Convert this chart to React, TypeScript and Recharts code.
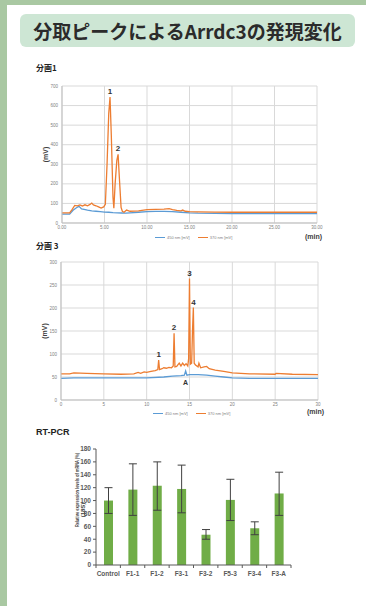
import React from "react";
import {
  LineChart,
  Line,
  XAxis,
  YAxis,
  CartesianGrid,
  ReferenceDot,
  BarChart,
  Bar,
  ErrorBar,
} from "recharts";

// 分画1
const f1Time370 = [0, 0.9, 1.2, 1.5, 1.8, 2.1, 2.4, 2.7, 3.0, 3.3, 3.5, 3.7, 4.0, 4.3, 4.6, 4.9, 5.1, 5.3, 5.5, 5.65, 5.8, 6.0, 6.1, 6.25, 6.45, 6.6, 6.75, 6.95, 7.1, 7.3, 7.6, 8.0, 9.0, 10.0, 11.0, 12.0, 12.6, 13.0, 13.5, 14.0, 14.2, 14.5, 15.0, 16.0, 18.0, 20.0, 25.0, 30.0];
const f1Mv370 = [52, 52, 70, 90, 88, 92, 87, 93, 88, 95, 102, 92, 88, 82, 76, 82, 95, 300, 560, 644, 450, 130, 76, 200, 320, 351, 230, 80, 60, 55, 66, 60, 62, 68, 70, 71, 73, 68, 64, 62, 66, 60, 58, 57, 56, 55, 55, 55];
const f1Time450 = [0, 0.9, 1.3, 1.7, 2.0, 2.3, 2.6, 3.0, 3.5, 4.0, 4.5, 5.0, 5.5, 6.0, 6.5, 7.0, 7.5, 8.0, 9.0, 10.0, 11.0, 12.0, 13.0, 14.0, 15.0, 16.0, 18.0, 20.0, 25.0, 30.0];
const f1Mv450 = [45, 45, 65, 78, 85, 72, 70, 66, 62, 60, 58, 56, 55, 53, 52, 51, 50, 52, 55, 58, 59, 59, 58, 55, 52, 50, 49, 48, 48, 48];
const f1PeakTime = [5.65, 6.6];
const f1PeakMv = [644, 351];
const f1PeakText = ["1", "2"];
const f1YTicks = [0, 100, 200, 300, 400, 500, 600, 700];

// 分画3
const f3Time370 = [0, 1.0, 1.5, 3, 5, 7, 8.5, 9.0, 9.3, 9.7, 10.0, 10.5, 11.0, 11.3, 11.4, 11.5, 11.8, 12.0, 12.3, 12.6, 12.9, 13.1, 13.2, 13.3, 13.5, 13.8, 14.0, 14.2, 14.4, 14.6, 14.8, 14.9, 15.0, 15.1, 15.25, 15.35, 15.45, 15.55, 15.7, 16.0, 16.1, 16.3, 16.7, 17.0, 17.3, 18.0, 19.0, 20.0, 22.0, 25.0, 25.1, 27.0, 30.0];
const f3Mv370 = [57, 57, 59, 58, 57, 56, 57, 60, 58, 61, 60, 62, 64, 66, 87, 66, 68, 70, 69, 71, 70, 74, 145, 72, 73, 80, 74, 80, 75, 79, 74, 90, 264, 78, 80, 150, 201, 80, 76, 72, 80, 70, 72, 73, 68, 65, 62, 59, 57, 56, 58, 56, 55];
const f3Time450 = [0, 1.5, 5, 10, 12, 13, 14, 14.4, 14.55, 14.7, 15, 15.5, 16, 17, 18, 19, 20, 22, 25, 30];
const f3Mv450 = [47, 48, 48, 48, 50, 52, 53, 54, 63, 54, 55, 55, 55, 54, 52, 50, 48, 47, 47, 47];
const f3PeakTime = [11.4, 13.2, 15.0, 15.45];
const f3PeakMv = [87, 145, 264, 201];
const f3PeakText = ["1", "2", "3", "4"];
const f3YTicks = [0, 50, 100, 150, 200, 250, 300];

const xTicks = [0, 5, 10, 15, 20, 25, 30];

// RT-PCR
const rtCategories = ["Control", "F1-1", "F1-2", "F3-1", "F3-2", "F5-3", "F3-4", "F3-A"];
const rtValues = [100, 117, 123, 118, 47, 101, 57, 111];
const rtErrLow = [20, 40, 38, 37, 7, 32, 10, 34];
const rtErrHigh = [20, 40, 37, 37, 8, 32, 10, 33];
const rtYTicks = [0, 20, 40, 60, 80, 100, 120, 140, 160, 180];

const ORANGE = "#ed7d31";
const BLUE = "#5b9bd5";
const GRID = "#d9d9d9";
const TICK_FONT = { fontSize: 4.5, fill: "#7f7f7f", fontFamily: "Liberation Sans" };

const toSeries = (ts: number[], vs: number[]) => ts.map((t, i) => ({ t, mv: vs[i] }));

type ChromProps = {
  left: number;
  top: number;
  width: number;
  height: number;
  marginRight: number;
  yMax: number;
  yTicks: number[];
  xFormat: (v: number) => string;
  orange: { t: number; mv: number }[];
  blue: { t: number; mv: number }[];
  peaks: { t: number; mv: number; text: string }[];
  extra?: React.ReactNode;
};

function Chromatogram(p: ChromProps) {
  return (
    <div style={{ position: "absolute", left: p.left, top: p.top }}>
      <LineChart
        width={p.width}
        height={p.height}
        margin={{ top: 6, right: p.marginRight, bottom: 0, left: 0 }}
      >
        <CartesianGrid stroke={GRID} strokeWidth={1} />
        <XAxis
          type="number"
          dataKey="t"
          domain={[0, 30]}
          ticks={xTicks}
          interval={0}
          tickFormatter={p.xFormat}
          tick={TICK_FONT}
          tickLine={false}
          tickSize={0}
          tickMargin={3}
          axisLine={{ stroke: "#bfbfbf" }}
          height={9}
          allowDataOverflow
        />
        <YAxis
          type="number"
          domain={[0, p.yMax]}
          ticks={p.yTicks}
          interval={0}
          tick={TICK_FONT}
          tickLine={false}
          tickSize={0}
          tickMargin={4}
          axisLine={{ stroke: "#bfbfbf" }}
          width={32}
          label={{
            value: "(mV)",
            angle: -90,
            position: "center",
            style: { fontSize: 7, fontWeight: 700, fill: "#404040", fontFamily: "Liberation Sans" },
          }}
        />
        <Line
          data={p.blue}
          dataKey="mv"
          stroke={BLUE}
          strokeWidth={1.3}
          dot={false}
          isAnimationActive={false}
        />
        <Line
          data={p.orange}
          dataKey="mv"
          stroke={ORANGE}
          strokeWidth={1.3}
          dot={false}
          isAnimationActive={false}
        />
        {p.peaks.map((pk) => (
          <ReferenceDot
            key={pk.text}
            x={pk.t}
            y={pk.mv}
            r={1}
            fill="none"
            stroke="none"
            label={{
              value: pk.text,
              position: "top",
              offset: 2,
              style: { fontSize: 8, fontWeight: 700, fill: "#333", fontFamily: "Liberation Sans" },
            }}
          />
        ))}
        {p.extra}
      </LineChart>
    </div>
  );
}

function MiniLegend({ left, top }: { left: number; top: number }) {
  const item = (color: string, text: string) => (
    <span style={{ display: "inline-flex", alignItems: "center", marginRight: 8 }}>
      <span style={{ display: "inline-block", width: 10, height: 1.3, background: color, marginRight: 2 }} />
      <span>{text}</span>
    </span>
  );
  return (
    <div
      style={{
        position: "absolute",
        left,
        top,
        fontSize: 4,
        color: "#7f7f7f",
        fontFamily: "Liberation Sans",
        whiteSpace: "nowrap",
        display: "flex",
      }}
    >
      {item(BLUE, "450 nm [mV]")}
      {item(ORANGE, "370 nm [mV]")}
    </div>
  );
}

const RT_PLOT_W = 260 - 56 - 9;
const RT_BAND = RT_PLOT_W / rtCategories.length;

function RtTick(props: any) {
  const { x, y, payload, index } = props;
  const axisY = y - 6;
  return (
    <g>
      <line x1={x - RT_BAND / 2} x2={x - RT_BAND / 2} y1={axisY} y2={axisY + 3} stroke="#595959" />
      {index === rtCategories.length - 1 && (
        <line x1={x + RT_BAND / 2} x2={x + RT_BAND / 2} y1={axisY} y2={axisY + 3} stroke="#595959" />
      )}
      <text
        x={x}
        y={y}
        dy="0.71em"
        textAnchor="middle"
        fontSize={6.5}
        fontWeight={700}
        fill="#595959"
        fontFamily="Liberation Sans"
      >
        {payload.value}
      </text>
    </g>
  );
}

export default function App() {
  const f1Orange = toSeries(f1Time370, f1Mv370);
  const f1Blue = toSeries(f1Time450, f1Mv450);
  const f1Peaks = f1PeakTime.map((t, i) => ({ t, mv: f1PeakMv[i], text: f1PeakText[i] }));
  const f3Orange = toSeries(f3Time370, f3Mv370);
  const f3Blue = toSeries(f3Time450, f3Mv450);
  const f3Peaks = f3PeakTime.map((t, i) => ({ t, mv: f3PeakMv[i], text: f3PeakText[i] }));
  const rtData = rtCategories.map((name, i) => ({
    name,
    value: rtValues[i],
    err: [rtErrLow[i], rtErrHigh[i]],
  }));

  const heading: React.CSSProperties = {
    position: "absolute",
    fontFamily: "'Noto Sans CJK JP', 'Liberation Sans'",
    fontWeight: 700,
    fontSize: 8,
    color: "#222",
    lineHeight: 1,
  };

  return (
    <div
      style={{
        position: "absolute",
        left: 0,
        top: 0,
        width: 366,
        height: 606,
        background: "#a9c8a2",
        overflow: "hidden",
      }}
    >
      <div style={{ position: "absolute", left: 7, top: 5, right: 0, bottom: 0, background: "#fff" }} />
      <div
        style={{
          position: "absolute",
          left: 20,
          top: 14,
          width: 335,
          height: 33,
          borderRadius: 6,
          background: "#cde6d4",
          display: "flex",
          alignItems: "center",
          justifyContent: "center",
          fontFamily: "'Noto Sans CJK JP'",
          fontWeight: 700,
          fontSize: 19,
          color: "#2b2b2b",
          whiteSpace: "nowrap",
        }}
      >
        分取ピークによるArrdc3の発現変化
      </div>

      <div style={{ ...heading, left: 36, top: 64 }}>分画1</div>
      <Chromatogram
        left={30}
        top={80}
        width={300}
        height={152}
        marginRight={13}
        yMax={700}
        yTicks={f1YTicks}
        xFormat={(v) => v.toFixed(2)}
        orange={f1Orange}
        blue={f1Blue}
        peaks={f1Peaks}
      />
      <MiniLegend left={155} top={235} />
      <div style={{ ...heading, fontFamily: "Liberation Sans", fontSize: 7, color: "#404040", left: 305, top: 233 }}>
        (min)
      </div>

      <div style={{ ...heading, left: 36, top: 242 }}>分画 3</div>
      <Chromatogram
        left={29}
        top={256}
        width={300}
        height={153}
        marginRight={11}
        yMax={300}
        yTicks={f3YTicks}
        xFormat={(v) => String(v)}
        orange={f3Orange}
        blue={f3Blue}
        peaks={f3Peaks}
        extra={
          <ReferenceDot
            x={14.55}
            y={50}
            r={1}
            fill="none"
            stroke="none"
            label={{
              value: "A",
              position: "bottom",
              offset: 2,
              style: { fontSize: 7, fontWeight: 700, fill: "#333", fontFamily: "Liberation Sans" },
            }}
          />
        }
      />
      <MiniLegend left={153} top={411} />
      <div style={{ ...heading, fontFamily: "Liberation Sans", fontSize: 7, color: "#404040", left: 307, top: 408 }}>
        (min)
      </div>

      <div style={{ ...heading, fontFamily: "Liberation Sans", fontSize: 9, left: 36, top: 428 }}>RT-PCR</div>
      <div style={{ position: "absolute", left: 40, top: 440 }}>
        <BarChart
          width={260}
          height={145}
          data={rtData}
          margin={{ top: 9, right: 9, bottom: 0, left: 0 }}
        >
          <XAxis
            dataKey="name"
            height={20}
            tickLine={false}
            tickSize={3}
            tickMargin={3}
            axisLine={{ stroke: "#595959" }}
            tick={<RtTick />}
            interval={0}
          />
          <YAxis
            domain={[0, 180]}
            ticks={rtYTicks}
            interval={0}
            width={56}
            tickSize={3}
            tickMargin={2}
            tickLine={{ stroke: "#595959" }}
            axisLine={{ stroke: "#595959" }}
            tick={{ fontSize: 6.5, fontWeight: 700, fill: "#595959", fontFamily: "Liberation Sans" }}
          />
          <Bar dataKey="value" fill="#70ad47" barSize={9} isAnimationActive={false}>
            <ErrorBar dataKey="err" width={4} stroke="#404040" strokeWidth={1} />
          </Bar>
        </BarChart>
      </div>
      <svg width={30} height={160} style={{ position: "absolute", left: 62, top: 410 }}>
        <text
          transform="translate(15,80) rotate(-90)"
          textAnchor="middle"
          dominantBaseline="middle"
          fontSize={6}
          fontWeight={700}
          fill="#404040"
          fontFamily="Liberation Sans"
          textLength={74}
          lengthAdjust="spacingAndGlyphs"
        >
          Relative expression levels of mRNA (%)
        </text>
        <text
          transform="translate(21,100) rotate(-90)"
          textAnchor="middle"
          dominantBaseline="middle"
          fontSize={6}
          fontWeight={700}
          fill="#404040"
          fontFamily="Liberation Sans"
        >
          (18S)
        </text>
      </svg>
    </div>
  );
}
